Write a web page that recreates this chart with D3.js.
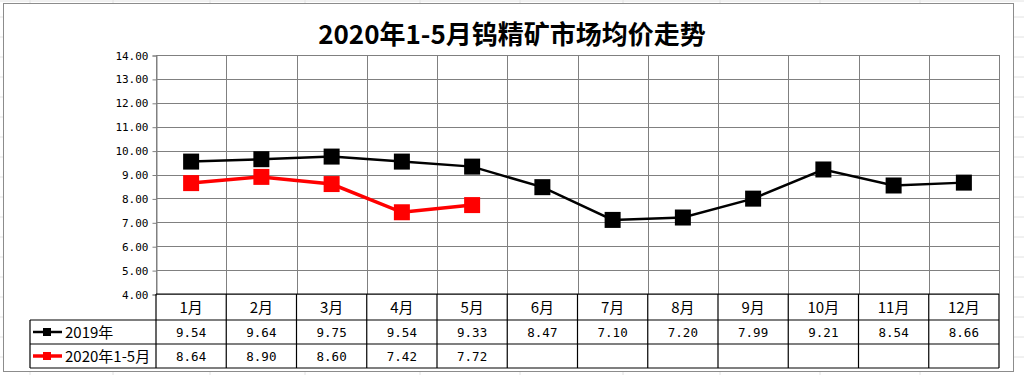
<!DOCTYPE html>
<html>
<head>
<meta charset="utf-8">
<script src="https://cdn.jsdelivr.net/npm/d3@7"></script>
<style>
  body { margin: 0; background: #fff; }
  svg text { font-family: "Noto Sans CJK SC", "DejaVu Sans", sans-serif; }
  .num { font-family: "DejaVu Sans Mono", "Liberation Mono", monospace; }
</style>
</head>
<body>
<div id="chart"></div>
<script>
// chart data
let months = ["1月", "2月", "3月", "4月", "5月", "6月", "7月", "8月", "9月", "10月", "11月", "12月"];
let price2019 = [9.54, 9.64, 9.75, 9.54, 9.33, 8.47, 7.10, 7.20, 7.99, 9.21, 8.54, 8.66];
let price2020 = [8.64, 8.90, 8.60, 7.42, 7.72];
let seriesNames = ["2019年", "2020年1-5月"];
let seriesColors = ["#000000", "#ff0000"];
let yTicks = [4, 5, 6, 7, 8, 9, 10, 11, 12, 13, 14];

let W = 1024, H = 375;
let plot = {left: 156, right: 999, top: 55, bottom: 294};
let rowH = 24;

let svg = d3.select("#chart")
    .append("svg")
    .attr("width", W)
    .attr("height", H);

// excel cell lines behind the chart
let cellX = [30, 113, 210, 305, 420, 520, 623, 720, 820, 920];
let cellY = [1, 17, 37, 57, 77, 97, 117, 137, 157, 177, 197, 217, 237, 257, 277, 297, 317, 337, 357];
svg.selectAll(".cellv").data(cellX).enter().append("line")
    .attr("x1", d => d).attr("x2", d => d)
    .attr("y1", 0).attr("y2", H)
    .attr("stroke", "#e2e2e2");
svg.selectAll(".cellh").data(cellY).enter().append("line")
    .attr("x1", 0).attr("x2", W)
    .attr("y1", d => d).attr("y2", d => d)
    .attr("stroke", "#e2e2e2");

// chart area
svg.append("rect")
    .attr("x", 3.5).attr("y", 3.5)
    .attr("width", 1010).attr("height", 368)
    .attr("fill", "#fff")
    .attr("stroke", "#8c8c8c");

svg.append("text")
    .attr("x", 512).attr("y", 44)
    .attr("text-anchor", "middle")
    .attr("font-size", 26)
    .attr("font-weight", "bold")
    .text("2020年1-5月钨精矿市场均价走势");

let x = d3.scaleBand()
    .domain(months)
    .range([plot.left, plot.right]);

let y = d3.scaleLinear()
    .domain([4, 14])
    .range([plot.bottom, plot.top]);

// grid
svg.selectAll(".gy").data(yTicks).enter().append("line")
    .attr("x1", plot.left).attr("x2", plot.right)
    .attr("y1", d => Math.round(y(d)) + 0.5).attr("y2", d => Math.round(y(d)) + 0.5)
    .attr("stroke", "#808080");
svg.selectAll(".gx").data(months.concat(["end"])).enter().append("line")
    .attr("x1", (d, i) => Math.round(plot.left + i * x.bandwidth()) + 0.5)
    .attr("x2", (d, i) => Math.round(plot.left + i * x.bandwidth()) + 0.5)
    .attr("y1", plot.top).attr("y2", plot.bottom)
    .attr("stroke", "#808080");

// y axis
let yaxis = svg.append("g")
    .attr("transform", "translate(" + (plot.left + 0.5) + ",0.5)")
    .call(d3.axisLeft(y).tickValues(yTicks).tickSize(4).tickFormat(d3.format(".2f")));
yaxis.select(".domain").attr("stroke", "#808080");
yaxis.selectAll(".tick line").attr("stroke", "#808080");
yaxis.selectAll("text")
    .attr("class", "num")
    .attr("font-size", 11)
    .attr("fill", "#000")
    .attr("x", -8);

// lines and markers
let line = d3.line()
    .x((d, i) => x(months[i]) + x.bandwidth() / 2)
    .y(d => y(d));

[price2019, price2020].forEach((vals, s) => {
    svg.append("path")
        .datum(vals)
        .attr("d", line)
        .attr("fill", "none")
        .attr("stroke", seriesColors[s])
        .attr("stroke-width", s == 0 ? 2.5 : 3.5);
    svg.selectAll(".m" + s).data(vals).enter().append("rect")
        .attr("x", (d, i) => x(months[i]) + x.bandwidth() / 2 - 8)
        .attr("y", d => y(d) - 8)
        .attr("width", 16).attr("height", 16)
        .attr("fill", seriesColors[s]);
});

// data table
let tbl = svg.append("g").attr("stroke", "#000").attr("stroke-width", 1.2);
let tLeft = 30;
let rows = [plot.bottom, plot.bottom + 26, plot.bottom + 26 + rowH, plot.bottom + 26 + 2 * rowH];
rows.forEach((ry, i) => {
    tbl.append("line")
        .attr("x1", i == 0 ? plot.left : tLeft).attr("x2", plot.right)
        .attr("y1", ry).attr("y2", ry);
});
tbl.append("line").attr("x1", tLeft).attr("x2", tLeft).attr("y1", rows[1]).attr("y2", rows[3]);
months.concat(["end"]).forEach((m, i) => {
    let cx = plot.left + i * x.bandwidth();
    tbl.append("line").attr("x1", cx).attr("x2", cx).attr("y1", rows[0]).attr("y2", rows[3]);
});

svg.selectAll(".hdr").data(months).enter().append("text")
    .attr("x", d => x(d) + x.bandwidth() / 2)
    .attr("y", rows[0] + 19)
    .attr("text-anchor", "middle")
    .attr("font-size", 15)
    .text(d => d);

[price2019, price2020].forEach((vals, s) => {
    svg.selectAll(".v" + s).data(vals).enter().append("text")
        .attr("class", "num")
        .attr("x", (d, i) => x(months[i]) + x.bandwidth() / 2)
        .attr("y", rows[s + 1] + 17)
        .attr("text-anchor", "middle")
        .attr("font-size", 12.5)
        .text(d => d.toFixed(2));

    let ly = rows[s + 1] + rowH / 2;
    svg.append("line")
        .attr("x1", 33).attr("x2", 62)
        .attr("y1", ly).attr("y2", ly)
        .attr("stroke", seriesColors[s])
        .attr("stroke-width", s == 0 ? 2.5 : 3.5);
    svg.append("rect")
        .attr("x", 43).attr("y", ly - 4)
        .attr("width", 8).attr("height", 8)
        .attr("fill", seriesColors[s]);
    svg.append("text")
        .attr("x", 65).attr("y", ly + 6)
        .attr("font-size", 15)
        .text(seriesNames[s]);
});
</script>
</body>
</html>
